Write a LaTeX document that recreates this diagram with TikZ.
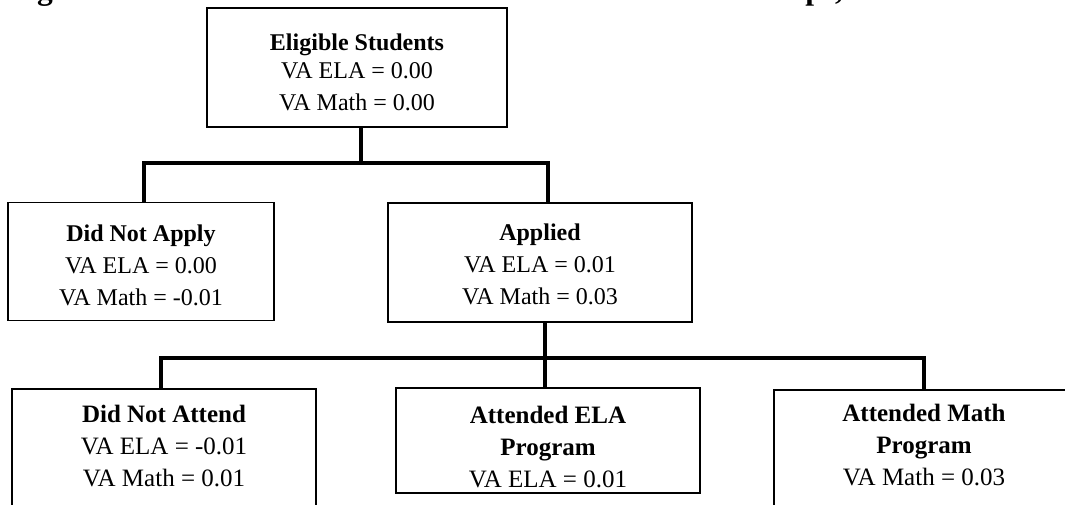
\documentclass[tikz,border=0pt]{standalone}
\usepackage{fontspec}
\setmainfont{Liberation Serif}
\usetikzlibrary{positioning,calc}

\begin{document}
\begin{tikzpicture}[x=1pt,y=-1pt,node distance=194pt,
box/.style={rectangle,draw,line width=1.6pt,inner sep=0pt,align=center,minimum width=300pt,font=\fontsize{24}{32}\selectfont},
lowbox/.style={box,minimum width=304pt,font=\fontsize{25}{32}\selectfont},
conn/.style={line width=3.6pt}]

\useasboundingbox (0,0) rectangle (1065,504);
\clip (0,0) rectangle (1065,504);

% title, cut off at the top
\node[anchor=base west,inner sep=0pt,font=\bfseries\fontsize{31.5}{36}\selectfont] (title) at (9,-1) {Figure 6. Value-Added Results across SES Utilization Groups, 2006};

% Nodes
\node[box,minimum height=119pt] (es) at (357,67.5) {\rule{0pt}{25.5pt}\textbf{Eligible Students}\\[-4pt]VA ELA = 0.00\\VA Math = 0.00};
\node[box,below of = es,xshift=-216pt,minimum width=266pt,minimum height=118pt] (dna) {\rule{0pt}{25pt}\textbf{Did Not Apply}\\VA ELA = 0.00\\VA Math = -0.01};
\node[box,below of = es,xshift=183pt,yshift=-1pt,minimum width=304pt,minimum height=119pt] (app) {\rule{0pt}{21pt}\textbf{Applied}\\VA ELA = 0.01\\VA Math = 0.03};

\node[lowbox,below of = app,xshift=-376pt,yshift=7pt,minimum height=121pt] (dnat) {\textbf{Did Not Attend}\\VA ELA = -0.01\\VA Math = 0.01\rule[-8pt]{0pt}{8pt}};
\node[lowbox,below of = app,xshift=8pt,yshift=16pt,minimum height=105pt] (aela) {\rule{0pt}{30pt}\textbf{Attended ELA}\\\textbf{Program}\\VA ELA = 0.01};
\node[lowbox,below of = app,xshift=384pt,yshift=6.5pt,minimum width=300pt,minimum height=120pt] (amath) {\textbf{Attended Math}\\\textbf{Program}\\VA Math = 0.03\rule[-10pt]{0pt}{10pt}};

%lines
\coordinate (bus1) at ($(es.south)+(4,35)$);
\coordinate (bus2) at ($(app.south)+(5,35)$);

\draw[conn] ([xshift=4pt]es.south) -- (bus1);
\draw[conn] ([xshift=3pt]dna.north) |- (bus1) -| ([xshift=8pt]app.north);

\draw[conn] ([xshift=5pt]app.south) -- (bus2);
\draw[conn] ([xshift=-3pt]dnat.north) |- (bus2) -| (amath.north);
\draw[conn] (bus2) -- ([xshift=-3pt]aela.north);

\end{tikzpicture}
\end{document}
